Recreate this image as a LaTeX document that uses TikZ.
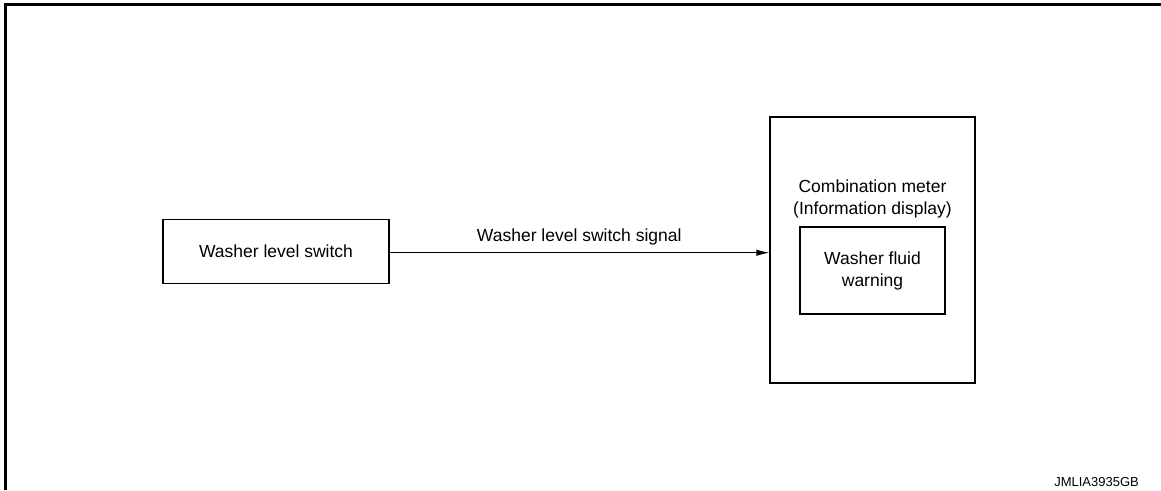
\documentclass[tikz,border=0pt]{standalone}
\usepackage{fontspec}
\setmainfont{Liberation Sans}
\usetikzlibrary{arrows.meta}
\begin{document}
\begin{tikzpicture}[x=1pt,y=-1pt,
  box/.style={draw, line width=1.1pt, inner sep=0pt},
  lbl/.style={font=\fontsize{17.5}{22}\selectfont, align=center, inner sep=0pt},
  conn/.style={line width=1.1pt, -{Latex[length=13pt,width=6.5pt]}}]
\useasboundingbox (0,0) rectangle (1161,490);
% frame
\draw[line width=3pt] (5.5,490) -- (5.5,4.5) -- (1161,4.5);
% boxes
\node[box, minimum width=226pt, minimum height=64pt] (wls) at (276,251.5) {};
\node[lbl] at (wls.center) {Washer level switch};
\node[box, minimum width=205pt, minimum height=266pt] (cm) at (872.5,250) {};
\node[lbl] (cmtitle) at (872.5,199) {Combination meter\\(Information display)};
\node[box, minimum width=145pt, minimum height=87pt] (wfw) at (872.5,270.5) {};
\node[lbl] at (wfw.center) {Washer fluid\\warning};
% connector
\coordinate (a) at (389,252.7);
\draw[conn] (a) -- (a -| cm.west) node[lbl, midway, above=7pt] (sig) {Washer level switch signal};
% code
\node[font=\fontsize{13}{15}\selectfont, inner sep=0pt, anchor=east] (code) at (1139,482) {JMLIA3935GB};
\end{tikzpicture}
\end{document}
